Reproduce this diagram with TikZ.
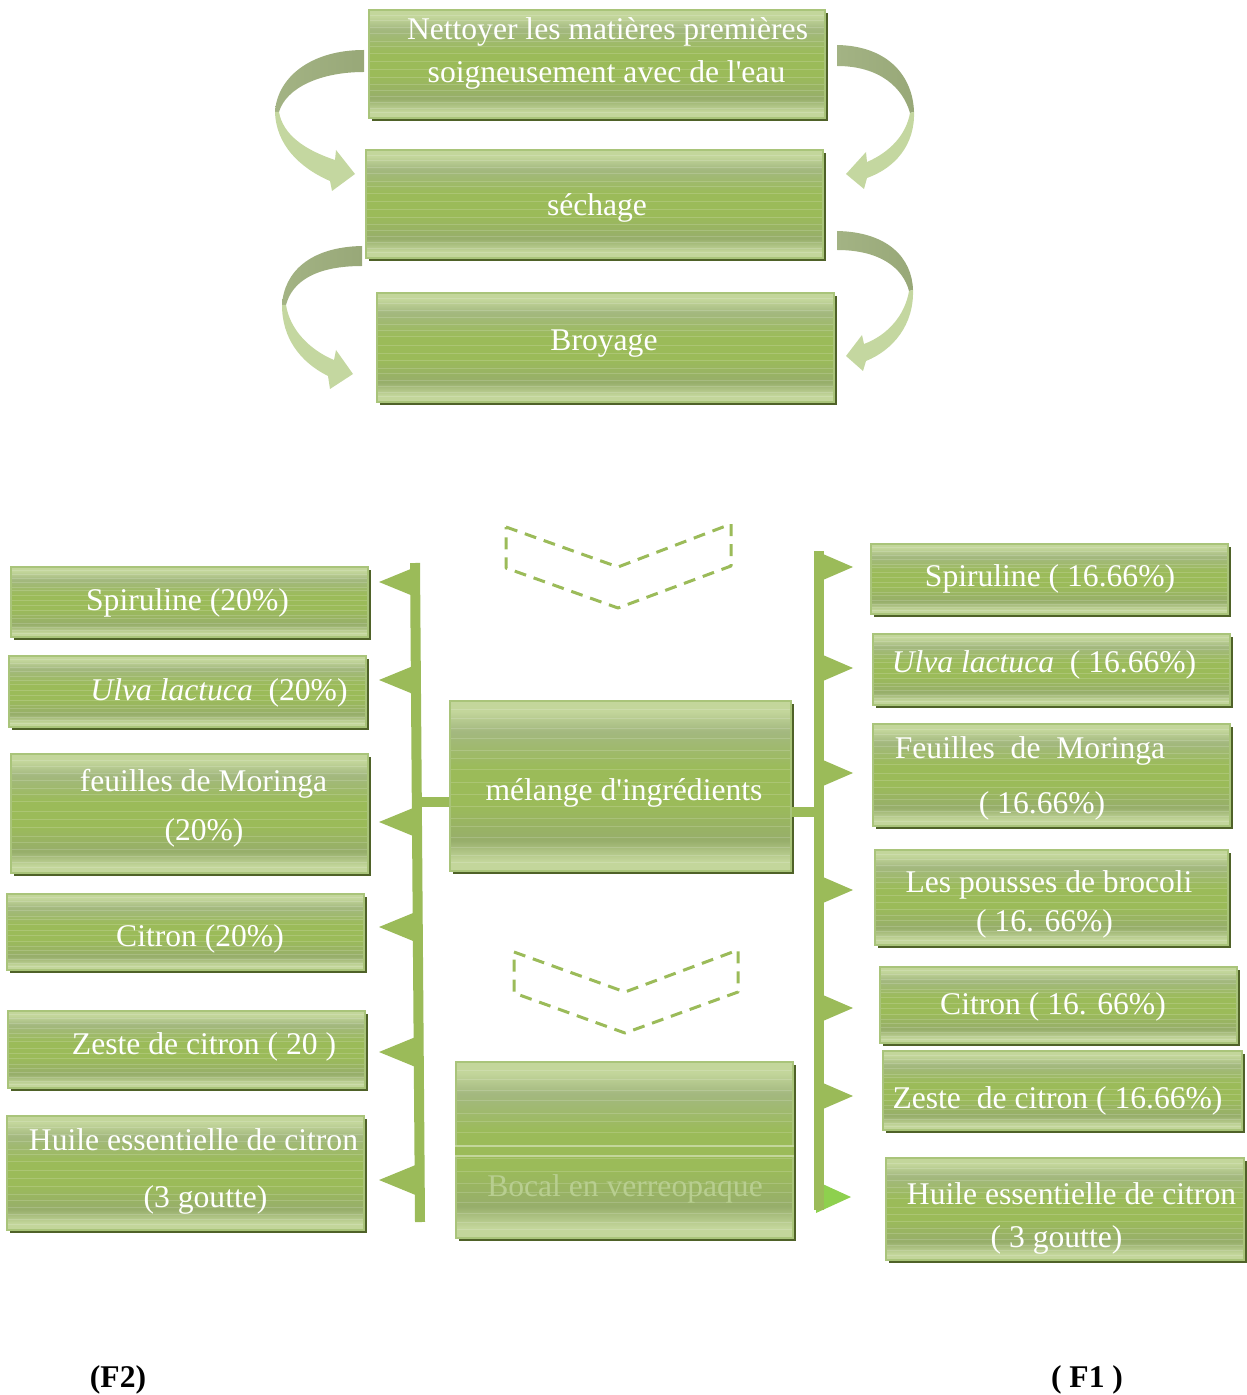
\documentclass[tikz,border=0pt]{standalone}
\usepackage{fontspec}
\setmainfont{Liberation Serif}[Ligatures=TeXOff]
\usetikzlibrary{shadows,calc}
\definecolor{gl}{HTML}{C3D69B}
\definecolor{gm}{HTML}{9BBB59}
\definecolor{gg}{HTML}{A3B87F}
\definecolor{gg2}{HTML}{97AE6B}
\definecolor{gshadow}{HTML}{4F6228}
\definecolor{gborder}{HTML}{A9C47A}
\definecolor{arrdark}{HTML}{98A878}
\definecolor{arrdark2}{HTML}{A3B384}
\definecolor{arrlight}{HTML}{C4D7A0}
\definecolor{faint}{HTML}{B8CE90}
\definecolor{bright}{HTML}{8ED04E}
\pgfdeclareverticalshading{greenbar}{100bp}{color(0bp)=(gl); color(25bp)=(gl); color(28bp)=(gl); color(34bp)=(gg2); color(45bp)=(gm); color(55bp)=(gm); color(66bp)=(gg); color(72bp)=(gl); color(75bp)=(gl); color(100bp)=(gl)}
\tikzset{
  gbox/.style={shading=greenbar, draw=gborder, line width=0.6pt, inner sep=0pt,
    drop shadow={shadow xshift=1.6pt, shadow yshift=-1.6pt, fill=gshadow, opacity=1},
    path picture={\foreach \f in {0.05,0.09,0.14,0.2,0.26,0.31,0.38,0.45,0.52,0.6,0.66,0.71,0.78,0.84,0.9,0.95}
      \draw[white, opacity=0.16, line width=0.4pt]
        ($(path picture bounding box.south west)!\f!(path picture bounding box.north west)$) --
        ($(path picture bounding box.south east)!\f!(path picture bounding box.north east)$);}},
  lbl/.style={text=white, font=\fontsize{15.8}{19}\selectfont, anchor=base, inner sep=0pt},
  flbl/.style={text=black, font=\fontsize{15.8}{19}\selectfont\bfseries, anchor=base, inner sep=0pt},
  bar/.style={draw=gm, line width=5pt},
  flag/.style={fill=gm},
  chev/.style={draw=gm, line width=1.5pt, dash pattern=on 6pt off 4pt, line join=round},
  arrup/.style={left color=arrdark2, right color=arrdark},
  arrlow/.style={fill=arrlight}
}
\begin{document}
\begin{tikzpicture}[x=0.5pt,y=-0.5pt]
\useasboundingbox (0,0) rectangle (1246,1395);

% ---- curved ribbon arrows (top part)
% left 1
\shade[arrup] (364,50) .. controls (310,50) and (277,78) .. (275,112) -- (279,112) .. controls (286,88) and (320,72) .. (364,72) -- cycle;
\fill[arrlow] (275,112) .. controls (276,145) and (300,168) .. (330,181) -- (332,191) -- (355,174) -- (336,150) -- (335,160) .. controls (305,150) and (283,135) .. (279,112) -- cycle;
% right 1
\shade[arrup] (837,45) .. controls (890,46) and (913,78) .. (914,112) -- (910,113) .. controls (903,88) and (880,66) .. (837,66) -- cycle;
\fill[arrlow] (914,112) .. controls (915,145) and (895,168) .. (867,178) -- (864,189) -- (846,174) -- (866,152) -- (867,162) .. controls (890,152) and (906,135) .. (910,113) -- cycle;
% left 2
\shade[arrup] (362,246) .. controls (310,247) and (284,272) .. (282,305) -- (286,305) .. controls (292,282) and (315,266) .. (362,266) -- cycle;
\fill[arrlow] (282,305) .. controls (282,338) and (300,362) .. (328,376) -- (330,389) -- (353,374) -- (336,350) -- (334,360) .. controls (310,350) and (290,330) .. (286,305) -- cycle;
% right 2
\shade[arrup] (837,231) .. controls (888,232) and (912,258) .. (913,290) -- (909,291) .. controls (903,268) and (880,250) .. (837,250) -- cycle;
\fill[arrlow] (913,290) .. controls (914,325) and (893,350) .. (866,361) -- (863,371) -- (846,356) -- (862,335) -- (864,344) .. controls (888,335) and (905,315) .. (909,291) -- cycle;

% ---- top boxes
\node[gbox, minimum width=228pt, minimum height=54pt] (b1) at (597,64) {};
\node[gbox, minimum width=228.5pt, minimum height=54pt] (b2) at (594.5,204) {};
\node[gbox, minimum width=228.5pt, minimum height=54.5pt] (b3) at (605.5,347.5) {};
\node[lbl] (t1a) at (607.5,40) {Nettoyer les matières premières};
\node[lbl] (t1b) at (606.5,83) {soigneusement avec de l'eau};
\node[lbl] (t2) at (597,216) {séchage};
\node[lbl] (t3) at (604,351) {Broyage};

% ---- dashed chevrons
\draw[chev] (506,527) -- (618,567) -- (731,524) -- (731,566) -- (618,608) -- (506,568) -- cycle;
\draw[chev] (514,952) -- (625,992) -- (738,950) -- (738,992) -- (625,1033) -- (514,993) -- cycle;

% ---- bars and connectors
\coordinate (lbtop) at (415,563);
\coordinate (lbbot) at (420,1222);
\coordinate (rbtop) at (819,551);
\coordinate (rbbot) at (819,1210);

% left flags
\foreach \yy in {582,680,822,927,1052,1180}
  \fill[flag] (418,\yy-16) -- (379,\yy) -- (418,\yy+16) -- cycle;
% right flags
\foreach \yy in {567,668,773,890,1008,1096}
  \fill[flag] (816,\yy-16) -- (853,\yy) -- (816,\yy+16) -- cycle;
\fill[bright] (816,1181) -- (851,1197) -- (816,1213) -- cycle;

\draw[bar] (lbtop) -- (lbbot);
\draw[bar] (rbtop) -- (rbbot);

% ---- center boxes
\node[gbox, minimum width=170.5pt, minimum height=85pt] (M) at (620.5,786) {};
\node[gbox, minimum width=168.5pt, minimum height=88pt] (B) at (624.5,1150) {};
\coordinate (bgapL) at ([yshift=2pt]B.west);
\coordinate (bgapR) at ([yshift=-3pt]B.east);
\fill[gm] (bgapL) rectangle (bgapR);
\draw[gl, line width=0.6pt] (bgapL) -- (bgapL -| bgapR);
\draw[gl, line width=0.6pt] (bgapR -| bgapL) -- (bgapR);
\node[lbl] (tm) at (624,800) {mélange d'ingrédients};
\node[lbl, text=faint] (tb) at (625,1196) {Bocal en verreopaque};

\coordinate (mL) at ([yshift=-8pt]M.west);
\coordinate (mR) at ([yshift=-13pt]M.east);
\draw[bar] (mL) -- (mL -| lbtop);
\draw[bar] (mR) -- (mR -| rbtop);

% ---- left boxes
\node[gbox, minimum width=178.5pt, minimum height=35pt] (L1) at (189.5,602) {};
\node[gbox, minimum width=178.5pt, minimum height=35.5pt] (L2) at (187.5,691.5) {};
\node[gbox, minimum width=178.5pt, minimum height=59.5pt] (L3) at (189.5,813.5) {};
\node[gbox, minimum width=178.5pt, minimum height=38pt] (L4) at (185.5,932) {};
\node[gbox, minimum width=178.5pt, minimum height=38.5pt] (L5) at (186.5,1049.5) {};
\node[gbox, minimum width=178.5pt, minimum height=57pt] (L6) at (185.5,1173) {};
\node[lbl] (tl1) at (187.5,610) {Spiruline (20\%)};
\node[lbl] (tl2) at (219,700) {\textit{Ulva lactuca}\ \ (20\%)};
\node[lbl] (tl3a) at (203.5,791) {feuilles de Moringa};
\node[lbl] (tl3b) at (204,840) {(20\%)};
\node[lbl] (tl4) at (200,946) {Citron (20\%)};
\node[lbl] (tl5) at (204,1054) {Zeste de citron ( 20 )};
\node[lbl] (tl6a) at (193.5,1150) {Huile essentielle de citron};
\node[lbl] (tl6b) at (205.5,1207) {(3 goutte)};

% ---- right boxes
\node[gbox, minimum width=178.5pt, minimum height=35pt] (R1) at (1049.5,579) {};
\node[gbox, minimum width=178.5pt, minimum height=35.5pt] (R2) at (1051.5,669.5) {};
\node[gbox, minimum width=178.5pt, minimum height=51pt] (R3) at (1051.5,775) {};
\node[gbox, minimum width=176.5pt, minimum height=47.5pt] (R4) at (1051.5,897.5) {};
\node[gbox, minimum width=178.5pt, minimum height=38pt] (R5) at (1058.5,1005) {};
\node[gbox, minimum width=179.5pt, minimum height=39.5pt] (R6) at (1062.5,1090.5) {};
\node[gbox, minimum width=179pt, minimum height=51pt] (R7) at (1065,1209) {};
\node[lbl] (tr1) at (1050,586) {Spiruline ( 16.66\%)};
\node[lbl] (tr2) at (1044,672) {\textit{Ulva lactuca}\ \ ( 16.66\%)};
\node[lbl] (tr3a) at (1030,758) {Feuilles\ \ de\ \ Moringa};
\node[lbl] (tr3b) at (1042,813) {( 16.66\%)};
\node[lbl] (tr4a) at (1049,892) {Les pousses de brocoli};
\node[lbl] (tr4b) at (1044.5,931) {( 16. 66\%)};
\node[lbl] (tr5) at (1053,1014) {Citron ( 16. 66\%)};
\node[lbl] (tr6) at (1057.5,1108) {Zeste\ \ de citron ( 16.66\%)};
\node[lbl] (tr7a) at (1071.5,1204) {Huile essentielle de citron};
\node[lbl] (tr7b) at (1056.5,1247) {( 3 goutte)};

% ---- formula labels
\node[flbl] (f2) at (118,1387) {(F2)};
\node[flbl] (f1) at (1087,1387) {( F1 )};
\end{tikzpicture}
\end{document}
